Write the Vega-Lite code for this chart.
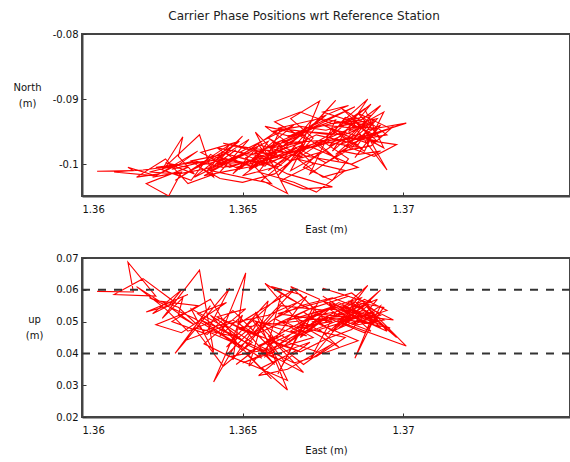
{
"$schema": "https://vega.github.io/schema/vega-lite/v6.json",
"padding": {"left": 12, "top": 10, "right": 0, "bottom": 0},
"title": {"text": "Carrier Phase Positions wrt Reference Station", "fontSize": 12, "fontWeight": "normal", "font": "DejaVu Sans", "color": "#222", "anchor": "middle", "dx": 12, "offset": 5},
"spacing": 17,
"config": {
  "view": {"stroke": "#444", "strokeWidth": 2},
  "axis": {"grid": false, "labelFont": "DejaVu Sans", "labelFontSize": 10, "labelColor": "#111", "labelOverlap": false, "titleFont": "DejaVu Sans", "titleFontSize": 10, "titleFontWeight": "normal", "titleColor": "#111", "domainColor": "#444", "domainWidth": 2, "tickColor": "#333", "tickSize": -4, "labelPadding": 8},
  "axisX": {"labelPadding": 12, "titlePadding": 10}
},
"datasets": {"pos": [
{"i":1,"east":1.36047,"north":-0.1011,"up":0.0595},
{"i":2,"east":1.3616,"north":-0.101,"up":0.0593},
{"i":3,"east":1.36143,"north":-0.1005,"up":0.0687},
{"i":4,"east":1.3623,"north":-0.1018,"up":0.058},
{"i":5,"east":1.361,"north":-0.1012,"up":0.0585},
{"i":6,"east":1.3619,"north":-0.1009,"up":0.0635},
{"i":7,"east":1.3629,"north":-0.1003,"up":0.056},
{"i":8,"east":1.3622,"north":-0.102,"up":0.0525},
{"i":9,"east":1.3631,"north":-0.1012,"up":0.06},
{"i":10,"east":1.3627,"north":-0.1049,"up":0.055},
{"i":11,"east":1.362,"north":-0.103,"up":0.053},
{"i":12,"east":1.3633,"north":-0.1005,"up":0.0585},
{"i":13,"east":1.3626,"north":-0.0998,"up":0.0555},
{"i":14,"east":1.3635,"north":-0.1015,"up":0.049},
{"i":15,"east":1.363,"north":-0.0988,"up":0.052},
{"i":16,"east":1.36314,"north":-0.0958,"up":0.0575},
{"i":17,"east":1.3625,"north":-0.1008,"up":0.051},
{"i":18,"east":1.36366,"north":-0.0955,"up":0.0662},
{"i":19,"east":1.3641,"north":-0.102,"up":0.0405},
{"i":20,"east":1.3634,"north":-0.0995,"up":0.054},
{"i":21,"east":1.3644,"north":-0.0985,"up":0.0485},
{"i":22,"east":1.3632,"north":-0.1015,"up":0.044},
{"i":23,"east":1.364,"north":-0.0992,"up":0.055},
{"i":24,"east":1.3629,"north":-0.1025,"up":0.04},
{"i":25,"east":1.3646,"north":-0.097,"up":0.0605},
{"i":26,"east":1.3639,"north":-0.101,"up":0.047},
{"i":27,"east":1.3648,"north":-0.0978,"up":0.043},
{"i":28,"east":1.3641,"north":-0.1003,"up":0.031},
{"i":29,"east":1.365,"north":-0.0957,"up":0.052},
{"i":30,"east":1.3643,"north":-0.099,"up":0.0455},
{"i":31,"east":1.3651,"north":-0.0998,"up":0.0653},
{"i":32,"east":1.3647,"north":-0.1015,"up":0.038},
{"i":33,"east":1.3655,"north":-0.0972,"up":0.05},
{"i":34,"east":1.3645,"north":-0.0996,"up":0.042},
{"i":35,"east":1.3658,"north":-0.0965,"up":0.0565},
{"i":36,"east":1.3652,"north":-0.1008,"up":0.036},
{"i":37,"east":1.366,"north":-0.0982,"up":0.0445},
{"i":38,"east":1.3654,"north":-0.0951,"up":0.053},
{"i":39,"east":1.3664,"north":-0.1045,"up":0.0285},
{"i":40,"east":1.3656,"north":-0.1025,"up":0.0355},
{"i":41,"east":1.3667,"north":-0.098,"up":0.041},
{"i":42,"east":1.365,"north":-0.0985,"up":0.0475},
{"i":43,"east":1.3662,"north":-0.0945,"up":0.0585},
{"i":44,"east":1.3657,"north":-0.0995,"up":0.039},
{"i":45,"east":1.3669,"north":-0.097,"up":0.0495},
{"i":46,"east":1.3661,"north":-0.1018,"up":0.0335},
{"i":47,"east":1.3672,"north":-0.096,"up":0.0545},
{"i":48,"east":1.3665,"north":-0.093,"up":0.061},
{"i":49,"east":1.3674,"north":-0.0903,"up":0.057},
{"i":50,"east":1.3668,"north":-0.0975,"up":0.045},
{"i":51,"east":1.3677,"north":-0.0962,"up":0.052},
{"i":52,"east":1.3663,"north":-0.099,"up":0.0425},
{"i":53,"east":1.3679,"north":-0.0902,"up":0.0555},
{"i":54,"east":1.367,"north":-0.095,"up":0.048},
{"i":55,"east":1.3682,"north":-0.0955,"up":0.0535},
{"i":56,"east":1.3675,"north":-0.094,"up":0.058},
{"i":57,"east":1.3686,"north":-0.0945,"up":0.0505},
{"i":58,"east":1.3678,"north":-0.098,"up":0.047},
{"i":59,"east":1.3689,"north":-0.09,"up":0.0614},
{"i":60,"east":1.3681,"north":-0.0935,"up":0.054},
{"i":61,"east":1.369,"north":-0.0925,"up":0.051},
{"i":62,"east":1.3684,"north":-0.0965,"up":0.049},
{"i":63,"east":1.3693,"north":-0.094,"up":0.055},
{"i":64,"east":1.3685,"north":-0.099,"up":0.0385},
{"i":65,"east":1.3691,"north":-0.0952,"up":0.053},
{"i":66,"east":1.368,"north":-0.097,"up":0.05},
{"i":67,"east":1.3701,"north":-0.0937,"up":0.0423},
{"i":68,"east":1.3688,"north":-0.0948,"up":0.0555},
{"i":69,"east":1.3695,"north":-0.1009,"up":0.047},
{"i":70,"east":1.3683,"north":-0.093,"up":0.0525},
{"i":71,"east":1.3676,"north":-0.0958,"up":0.046},
{"i":72,"east":1.3666,"north":-0.0985,"up":0.0515},
{"i":73,"east":1.3673,"north":-0.0942,"up":0.055},
{"i":74,"east":1.366,"north":-0.0968,"up":0.049},
{"i":75,"east":1.3687,"north":-0.096,"up":0.0575},
{"i":76,"east":1.3671,"north":-0.1015,"up":0.038},
{"i":77,"east":1.3679,"north":-0.0932,"up":0.053},
{"i":78,"east":1.3664,"north":-0.0958,"up":0.0505},
{"i":79,"east":1.3685,"north":-0.0912,"up":0.056},
{"i":80,"east":1.3659,"north":-0.0975,"up":0.043},
{"i":81,"east":1.367,"north":-0.0965,"up":0.058},
{"i":82,"east":1.3653,"north":-0.0992,"up":0.046},
{"i":83,"east":1.3666,"north":-0.094,"up":0.06},
{"i":84,"east":1.3649,"north":-0.0982,"up":0.0495},
{"i":85,"east":1.366,"north":-0.1005,"up":0.0365},
{"i":86,"east":1.3655,"north":-0.097,"up":0.0415},
{"i":87,"east":1.3669,"north":-0.099,"up":0.034},
{"i":88,"east":1.3658,"north":-0.096,"up":0.0455},
{"i":89,"east":1.3675,"north":-0.102,"up":0.04},
{"i":90,"east":1.3686,"north":-0.1005,"up":0.044},
{"i":91,"east":1.3672,"north":-0.0975,"up":0.05},
{"i":92,"east":1.3689,"north":-0.094,"up":0.052},
{"i":93,"east":1.3681,"north":-0.0915,"up":0.055},
{"i":94,"east":1.3692,"north":-0.0965,"up":0.0495},
{"i":95,"east":1.3677,"north":-0.0945,"up":0.051},
{"i":96,"east":1.3688,"north":-0.098,"up":0.0465},
{"i":97,"east":1.3694,"north":-0.092,"up":0.0545},
{"i":98,"east":1.3683,"north":-0.095,"up":0.0565},
{"i":99,"east":1.369,"north":-0.0908,"up":0.0525},
{"i":100,"east":1.3674,"north":-0.097,"up":0.0475},
{"i":101,"east":1.368,"north":-0.0995,"up":0.042},
{"i":102,"east":1.3668,"north":-0.0952,"up":0.049},
{"i":103,"east":1.3676,"north":-0.0925,"up":0.0535},
{"i":104,"east":1.3662,"north":-0.098,"up":0.055},
{"i":105,"east":1.365,"north":-0.1,"up":0.041},
{"i":106,"east":1.3642,"north":-0.0975,"up":0.047},
{"i":107,"east":1.3656,"north":-0.0988,"up":0.0385},
{"i":108,"east":1.3646,"north":-0.1005,"up":0.0445},
{"i":109,"east":1.3637,"north":-0.0982,"up":0.0505},
{"i":110,"east":1.3649,"north":-0.0965,"up":0.045},
{"i":111,"east":1.3635,"north":-0.102,"up":0.048},
{"i":112,"east":1.3644,"north":-0.0998,"up":0.036},
{"i":113,"east":1.3653,"north":-0.098,"up":0.0435},
{"i":114,"east":1.364,"north":-0.101,"up":0.052},
{"i":115,"east":1.3659,"north":-0.103,"up":0.032},
{"i":116,"east":1.3651,"north":-0.099,"up":0.04},
{"i":117,"east":1.3663,"north":-0.0962,"up":0.046},
{"i":118,"east":1.3655,"north":-0.1012,"up":0.0425},
{"i":119,"east":1.3666,"north":-0.1028,"up":0.037},
{"i":120,"east":1.3673,"north":-0.1043,"up":0.039},
{"i":121,"east":1.3682,"north":-0.101,"up":0.045},
{"i":122,"east":1.3667,"north":-0.0992,"up":0.0485},
{"i":123,"east":1.3678,"north":-0.0955,"up":0.05},
{"i":124,"east":1.3661,"north":-0.0945,"up":0.0525},
{"i":125,"east":1.3674,"north":-0.093,"up":0.056},
{"i":126,"east":1.3684,"north":-0.0938,"up":0.059},
{"i":127,"east":1.3693,"north":-0.096,"up":0.052},
{"i":128,"east":1.3686,"north":-0.0922,"up":0.05},
{"i":129,"east":1.3696,"north":-0.0945,"up":0.048},
{"i":130,"east":1.3682,"north":-0.0972,"up":0.053},
{"i":131,"east":1.3691,"north":-0.0988,"up":0.0515},
{"i":132,"east":1.3698,"north":-0.097,"up":0.045},
{"i":133,"east":1.3687,"north":-0.0962,"up":0.0545},
{"i":134,"east":1.3679,"north":-0.0985,"up":0.0485},
{"i":135,"east":1.3689,"north":-0.0942,"up":0.056},
{"i":136,"east":1.3675,"north":-0.092,"up":0.0605},
{"i":137,"east":1.3683,"north":-0.091,"up":0.058},
{"i":138,"east":1.3671,"north":-0.0935,"up":0.054},
{"i":139,"east":1.3665,"north":-0.097,"up":0.057},
{"i":140,"east":1.3657,"north":-0.0942,"up":0.062},
{"i":141,"east":1.3669,"north":-0.0955,"up":0.048},
{"i":142,"east":1.3654,"north":-0.0982,"up":0.05},
{"i":143,"east":1.3662,"north":-0.1002,"up":0.042},
{"i":144,"east":1.365,"north":-0.1018,"up":0.037},
{"i":145,"east":1.366,"north":-0.098,"up":0.0405},
{"i":146,"east":1.3647,"north":-0.0972,"up":0.0535},
{"i":147,"east":1.3639,"north":-0.0995,"up":0.046},
{"i":148,"east":1.3628,"north":-0.1008,"up":0.05},
{"i":149,"east":1.3636,"north":-0.098,"up":0.055},
{"i":150,"east":1.3624,"north":-0.1015,"up":0.0565},
{"i":151,"east":1.3617,"north":-0.102,"up":0.061},
{"i":152,"east":1.3626,"north":-0.0992,"up":0.054},
{"i":153,"east":1.3633,"north":-0.103,"up":0.047},
{"i":154,"east":1.3643,"north":-0.1012,"up":0.051},
{"i":155,"east":1.3652,"north":-0.0962,"up":0.0465},
{"i":156,"east":1.3645,"north":-0.0984,"up":0.0395},
{"i":157,"east":1.3656,"north":-0.1,"up":0.035},
{"i":158,"east":1.3664,"north":-0.0988,"up":0.0315},
{"i":159,"east":1.3658,"north":-0.101,"up":0.044},
{"i":160,"east":1.3668,"north":-0.0978,"up":0.0405},
{"i":161,"east":1.3676,"north":-0.0998,"up":0.0445},
{"i":162,"east":1.3684,"north":-0.0975,"up":0.0475},
{"i":163,"east":1.3692,"north":-0.093,"up":0.057},
{"i":164,"east":1.368,"north":-0.0942,"up":0.052},
{"i":165,"east":1.3688,"north":-0.0915,"up":0.0535},
{"i":166,"east":1.3694,"north":-0.0975,"up":0.0505},
{"i":167,"east":1.3686,"north":-0.0954,"up":0.049},
{"i":168,"east":1.3677,"north":-0.0972,"up":0.0555},
{"i":169,"east":1.3685,"north":-0.0935,"up":0.0515},
{"i":170,"east":1.369,"north":-0.0958,"up":0.047},
{"i":171,"east":1.3681,"north":-0.0962,"up":0.0505},
{"i":172,"east":1.3673,"north":-0.0988,"up":0.052},
{"i":173,"east":1.3665,"north":-0.101,"up":0.047},
{"i":174,"east":1.367,"north":-0.0962,"up":0.0455},
{"i":175,"east":1.366,"north":-0.0935,"up":0.051},
{"i":176,"east":1.3668,"north":-0.092,"up":0.055},
{"i":177,"east":1.3678,"north":-0.0938,"up":0.0575},
{"i":178,"east":1.3687,"north":-0.0932,"up":0.054},
{"i":179,"east":1.3693,"north":-0.091,"up":0.06},
{"i":180,"east":1.3684,"north":-0.0958,"up":0.052},
{"i":181,"east":1.3648,"north":-0.1005,"up":0.048},
{"i":182,"east":1.3656,"north":-0.0995,"up":0.045},
{"i":183,"east":1.3642,"north":-0.1,"up":0.0515},
{"i":184,"east":1.3651,"north":-0.0982,"up":0.054},
{"i":185,"east":1.3638,"north":-0.1018,"up":0.043},
{"i":186,"east":1.3646,"north":-0.101,"up":0.039},
{"i":187,"east":1.3659,"north":-0.0998,"up":0.0415},
{"i":188,"east":1.3667,"north":-0.0975,"up":0.046},
{"i":189,"east":1.3653,"north":-0.1002,"up":0.0505},
{"i":190,"east":1.3663,"north":-0.0985,"up":0.0375},
{"i":191,"east":1.3671,"north":-0.0972,"up":0.0435},
{"i":192,"east":1.366,"north":-0.1015,"up":0.0395},
{"i":193,"east":1.365,"north":-0.1028,"up":0.044},
{"i":194,"east":1.3643,"north":-0.1022,"up":0.0475},
{"i":195,"east":1.3636,"north":-0.1003,"up":0.0525},
{"i":196,"east":1.3645,"north":-0.0992,"up":0.056},
{"i":197,"east":1.3631,"north":-0.1,"up":0.0465},
{"i":198,"east":1.3623,"north":-0.1005,"up":0.049},
{"i":199,"east":1.3634,"north":-0.1025,"up":0.0535},
{"i":200,"east":1.364,"north":-0.0985,"up":0.057},
{"i":201,"east":1.3649,"north":-0.1008,"up":0.042},
{"i":202,"east":1.3657,"north":-0.0978,"up":0.0485},
{"i":203,"east":1.3665,"north":-0.0995,"up":0.044},
{"i":204,"east":1.3674,"north":-0.0982,"up":0.0495},
{"i":205,"east":1.3669,"north":-0.1005,"up":0.053},
{"i":206,"east":1.3678,"north":-0.1025,"up":0.047},
{"i":207,"east":1.3683,"north":-0.0992,"up":0.051},
{"i":208,"east":1.3675,"north":-0.0965,"up":0.0565},
{"i":209,"east":1.3687,"north":-0.0975,"up":0.0525},
{"i":210,"east":1.368,"north":-0.0952,"up":0.048},
{"i":211,"east":1.3689,"north":-0.0968,"up":0.055},
{"i":212,"east":1.3692,"north":-0.0945,"up":0.05},
{"i":213,"east":1.3685,"north":-0.0942,"up":0.053},
{"i":214,"east":1.3677,"north":-0.096,"up":0.054},
{"i":215,"east":1.3682,"north":-0.0928,"up":0.0505},
{"i":216,"east":1.369,"north":-0.0938,"up":0.0565},
{"i":217,"east":1.3684,"north":-0.095,"up":0.0545},
{"i":218,"east":1.3691,"north":-0.0932,"up":0.049},
{"i":219,"east":1.3686,"north":-0.097,"up":0.051},
{"i":220,"east":1.3673,"north":-0.0955,"up":0.0525},
{"i":221,"east":1.3666,"north":-0.0972,"up":0.0485},
{"i":222,"east":1.3672,"north":-0.1,"up":0.045},
{"i":223,"east":1.3662,"north":-0.1025,"up":0.042},
{"i":224,"east":1.3669,"north":-0.1038,"up":0.0365},
{"i":225,"east":1.3678,"north":-0.1035,"up":0.043},
{"i":226,"east":1.3664,"north":-0.1015,"up":0.035},
{"i":227,"east":1.3655,"north":-0.0992,"up":0.033},
{"i":228,"east":1.3661,"north":-0.099,"up":0.038},
{"i":229,"east":1.3652,"north":-0.0975,"up":0.0425},
{"i":230,"east":1.3644,"north":-0.0968,"up":0.049},
{"i":231,"east":1.3658,"north":-0.0985,"up":0.052},
{"i":232,"east":1.3667,"north":-0.096,"up":0.056},
{"i":233,"east":1.3659,"north":-0.095,"up":0.061},
{"i":234,"east":1.3668,"north":-0.0942,"up":0.0585},
{"i":235,"east":1.3676,"north":-0.0948,"up":0.05},
{"i":236,"east":1.3688,"north":-0.093,"up":0.057},
{"i":237,"east":1.3695,"north":-0.0955,"up":0.0535},
{"i":238,"east":1.3689,"north":-0.096,"up":0.0515},
{"i":239,"east":1.3697,"north":-0.0942,"up":0.0505},
{"i":240,"east":1.369,"north":-0.0972,"up":0.054},
{"i":241,"east":1.3681,"north":-0.098,"up":0.0495},
{"i":242,"east":1.3686,"north":-0.0985,"up":0.0555},
{"i":243,"east":1.3693,"north":-0.098,"up":0.048},
{"i":244,"east":1.3684,"north":-0.1,"up":0.052},
{"i":245,"east":1.367,"north":-0.0988,"up":0.0465},
{"i":246,"east":1.3663,"north":-0.0975,"up":0.05},
{"i":247,"east":1.3654,"north":-0.1005,"up":0.046},
{"i":248,"east":1.3647,"north":-0.0995,"up":0.0505},
{"i":249,"east":1.3638,"north":-0.1008,"up":0.047},
{"i":250,"east":1.363,"north":-0.1015,"up":0.0545},
{"i":251,"east":1.3621,"north":-0.1012,"up":0.0575},
{"i":252,"east":1.3635,"north":-0.0995,"up":0.051},
{"i":253,"east":1.3644,"north":-0.1005,"up":0.0455},
{"i":254,"east":1.3653,"north":-0.0995,"up":0.0405},
{"i":255,"east":1.3648,"north":-0.0988,"up":0.0365},
{"i":256,"east":1.3657,"north":-0.1003,"up":0.0435},
{"i":257,"east":1.3664,"north":-0.0965,"up":0.0475},
{"i":258,"east":1.3672,"north":-0.0945,"up":0.0515},
{"i":259,"east":1.368,"north":-0.0935,"up":0.056},
{"i":260,"east":1.3687,"north":-0.0945,"up":0.0525}
]},
"vconcat": [
  {
    "width": 488, "height": 162,
    "data": {"name": "pos"},
    "mark": {"type": "line", "color": "#ff0000", "strokeWidth": 1.1, "clip": true},
    "encoding": {
      "x": {"field": "east", "type": "quantitative", "scale": {"domain": [1.36, 1.3752], "nice": false, "zero": false},
            "axis": {"values": [1.36, 1.365, 1.37], "labelExpr": "'' + datum.value", "title": "East (m)"}},
      "y": {"field": "north", "type": "quantitative", "scale": {"domain": [-0.1049, -0.08], "nice": false, "zero": false},
            "axis": {"values": [-0.1, -0.09, -0.08], "labelExpr": "'' + datum.value", "title": ["North", "(m)"], "titleAngle": 0, "titleX": -55, "titleY": 48, "titleAlign": "center", "titleBaseline": "top", "titleLineHeight": 16}},
      "order": {"field": "i", "type": "quantitative"}
    }
  },
  {
    "width": 488, "height": 159,
    "encoding": {
      "y": {"field": "up", "type": "quantitative", "scale": {"domain": [0.02, 0.07], "nice": false, "zero": false},
            "axis": {"values": [0.02, 0.03, 0.04, 0.05, 0.06, 0.07], "labelExpr": "'' + datum.value", "title": ["up", "(m)"], "titleAngle": 0, "titleX": -48, "titleY": 56, "titleAlign": "center", "titleBaseline": "top", "titleLineHeight": 16}}
    },
    "layer": [
      {
        "data": {"name": "pos"},
        "mark": {"type": "line", "color": "#ff0000", "strokeWidth": 1.1, "clip": true},
        "encoding": {
          "x": {"field": "east", "type": "quantitative", "scale": {"domain": [1.36, 1.3752], "nice": false, "zero": false},
                "axis": {"values": [1.36, 1.365, 1.37], "labelExpr": "'' + datum.value", "title": "East (m)"}},
          "order": {"field": "i", "type": "quantitative"}
        }
      },
      {
        "data": {"values": [{"up": 0.06}, {"up": 0.04}]},
        "mark": {"type": "rule", "color": "#333", "strokeDash": [8, 8], "strokeWidth": 2},
        "encoding": {}
      }
    ]
  }
]
}
